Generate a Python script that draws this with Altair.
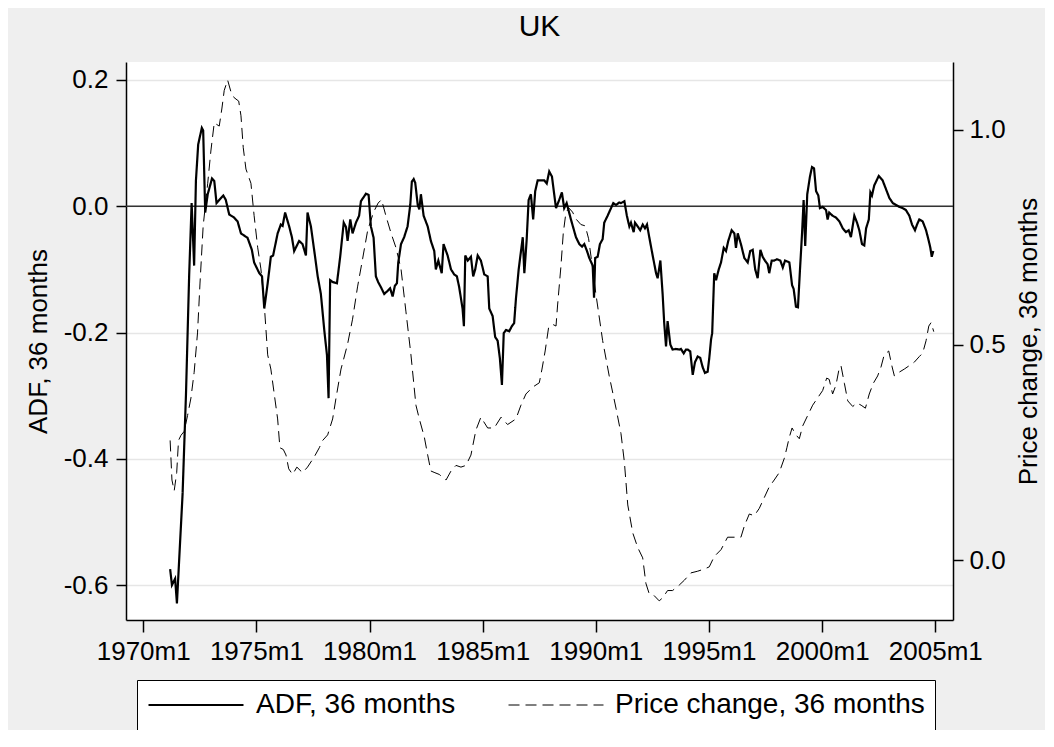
import altair as alt
import pandas as pd

# ---------------- data ----------------
adf_t = [1971.19, 1971.27, 1971.41, 1971.49, 1971.74, 1971.89, 1972.03, 1972.14, 1972.25, 1972.33,
         1972.43, 1972.59, 1972.65, 1972.74, 1972.85, 1973.04, 1973.14, 1973.24, 1973.36, 1973.54,
         1973.65, 1973.80, 1974.02, 1974.17, 1974.32, 1974.61, 1974.80, 1974.90, 1975.13, 1975.25,
         1975.35, 1975.50, 1975.64, 1975.74, 1975.94, 1976.08, 1976.16, 1976.27, 1976.45, 1976.57,
         1976.67, 1976.89, 1977.04, 1977.19, 1977.26, 1977.41, 1977.56, 1977.71, 1977.85, 1978.00,
         1978.12, 1978.19, 1978.26, 1978.37, 1978.56, 1978.71, 1978.86, 1978.96, 1979.03, 1979.15,
         1979.25, 1979.40, 1979.54, 1979.62, 1979.77, 1979.84, 1979.96, 1980.06, 1980.18, 1980.28,
         1980.38, 1980.50, 1980.65, 1980.80, 1980.91, 1981.02, 1981.12, 1981.21, 1981.27, 1981.39,
         1981.53, 1981.68, 1981.80, 1981.87, 1981.95, 1982.02, 1982.13, 1982.20, 1982.27, 1982.39,
         1982.57, 1982.71, 1982.86, 1982.93, 1983.04, 1983.19, 1983.27, 1983.45, 1983.60, 1983.74,
         1983.86, 1983.96, 1984.11, 1984.17, 1984.23, 1984.34, 1984.48, 1984.58, 1984.67, 1984.78,
         1984.92, 1985.07, 1985.22, 1985.29, 1985.44, 1985.55, 1985.66, 1985.76, 1985.85, 1985.93,
         1986.03, 1986.17, 1986.29, 1986.39, 1986.47, 1986.59, 1986.77, 1986.84, 1986.94, 1987.03,
         1987.13, 1987.23, 1987.32, 1987.43, 1987.57, 1987.72, 1987.83, 1987.94, 1988.06, 1988.16,
         1988.24, 1988.38, 1988.50, 1988.60, 1988.71, 1988.90, 1989.12, 1989.27, 1989.39, 1989.49,
         1989.61, 1989.71, 1989.86, 1989.92, 1989.97, 1990.08, 1990.18, 1990.30, 1990.37, 1990.52,
         1990.67, 1990.77, 1990.89, 1991.03, 1991.11, 1991.26, 1991.37, 1991.48, 1991.55, 1991.67,
         1991.73, 1991.85, 1991.96, 1992.07, 1992.17, 1992.26, 1992.36, 1992.51, 1992.66, 1992.73,
         1992.85, 1992.95, 1993.02, 1993.10, 1993.17, 1993.29, 1993.39, 1993.54, 1993.69, 1993.76,
         1993.88, 1993.98, 1994.06, 1994.17, 1994.28, 1994.38, 1994.50, 1994.61, 1994.72, 1994.82,
         1994.94, 1995.01, 1995.09, 1995.14, 1995.23, 1995.31, 1995.43, 1995.53, 1995.65, 1995.75,
         1995.85, 1996.00, 1996.12, 1996.19, 1996.27, 1996.41, 1996.56, 1996.71, 1996.82, 1996.93,
         1997.04, 1997.15, 1997.27, 1997.37, 1997.47, 1997.59, 1997.66, 1997.77, 1997.88, 1998.00,
         1998.15, 1998.26, 1998.36, 1998.55, 1998.67, 1998.74, 1998.84, 1998.93, 1999.02, 1999.11,
         1999.18, 1999.25, 1999.34, 1999.46, 1999.55, 1999.64, 1999.73, 1999.83, 1999.90, 2000.02,
         2000.17, 2000.24, 2000.31, 2000.46, 2000.61, 2000.76, 2000.91, 2001.05, 2001.17, 2001.27,
         2001.42, 2001.54, 2001.64, 2001.76, 2001.86, 2001.94, 2002.06, 2002.13, 2002.20, 2002.30,
         2002.50, 2002.67, 2002.82, 2002.97, 2003.12, 2003.26, 2003.41, 2003.56, 2003.70, 2003.85,
         2003.97, 2004.10, 2004.19, 2004.29, 2004.44, 2004.59, 2004.71, 2004.78, 2004.84, 2004.91]
adf_v = [-0.575, -0.600, -0.590, -0.629, -0.456, -0.298, -0.110, 0.005, -0.094, 0.041,
         0.098, 0.124, 0.120, -0.010, 0.019, 0.044, 0.040, 0.005, 0.010, 0.017,
         0.010, -0.013, -0.018, -0.024, -0.043, -0.050, -0.069, -0.089, -0.106, -0.111,
         -0.162, -0.122, -0.080, -0.078, -0.043, -0.029, -0.031, -0.010, -0.032, -0.049,
         -0.071, -0.055, -0.060, -0.078, -0.010, -0.032, -0.071, -0.111, -0.139, -0.196,
         -0.236, -0.304, -0.117, -0.120, -0.122, -0.078, -0.026, -0.033, -0.055, -0.021,
         -0.043, -0.026, -0.015, 0.008, 0.016, 0.020, 0.018, -0.032, -0.050, -0.111,
         -0.120, -0.128, -0.139, -0.134, -0.130, -0.143, -0.126, -0.122, -0.089, -0.060,
         -0.049, -0.032, 0.002, 0.039, 0.043, 0.037, 0.002, -0.005, 0.019, -0.015,
         -0.032, -0.055, -0.071, -0.100, -0.086, -0.106, -0.060, -0.078, -0.100, -0.108,
         -0.111, -0.128, -0.162, -0.190, -0.078, -0.086, -0.080, -0.111, -0.100, -0.078,
         -0.086, -0.108, -0.111, -0.162, -0.174, -0.207, -0.213, -0.241, -0.283, -0.201,
         -0.196, -0.198, -0.190, -0.185, -0.146, -0.100, -0.049, -0.106, -0.055, 0.010,
         0.019, -0.021, 0.024, 0.041, 0.041, 0.041, 0.036, 0.055, 0.047, 0.019,
         -0.003, 0.010, 0.022, -0.003, 0.005, -0.021, -0.049, -0.060, -0.064, -0.060,
         -0.071, -0.082, -0.094, -0.145, -0.082, -0.080, -0.060, -0.052, -0.026, -0.015,
         -0.003, 0.005, 0.002, 0.006, 0.005, 0.008, -0.015, -0.032, -0.026, -0.041,
         -0.026, -0.032, -0.038, -0.029, -0.035, -0.029, -0.049, -0.078, -0.106, -0.114,
         -0.086, -0.139, -0.185, -0.222, -0.182, -0.219, -0.227, -0.226, -0.227, -0.226,
         -0.233, -0.227, -0.227, -0.230, -0.267, -0.247, -0.238, -0.240, -0.255, -0.264,
         -0.262, -0.241, -0.211, -0.201, -0.106, -0.117, -0.100, -0.089, -0.066, -0.071,
         -0.055, -0.038, -0.043, -0.066, -0.043, -0.060, -0.082, -0.089, -0.071, -0.069,
         -0.100, -0.114, -0.069, -0.080, -0.086, -0.092, -0.106, -0.086, -0.086, -0.084,
         -0.086, -0.097, -0.086, -0.089, -0.125, -0.131, -0.159, -0.160, -0.100, -0.043,
         0.010, -0.063, 0.019, 0.047, 0.062, 0.060, 0.024, 0.017, -0.003, -0.001,
         -0.006, -0.021, -0.010, -0.015, -0.018, -0.024, -0.035, -0.041, -0.038, -0.049,
         -0.015, -0.026, -0.038, -0.060, -0.062, -0.035, -0.021, 0.022, 0.017, 0.033,
         0.048, 0.041, 0.027, 0.013, 0.005, 0.002, -0.001, -0.003, -0.006, -0.015,
         -0.029, -0.038, -0.029, -0.021, -0.024, -0.038, -0.055, -0.066, -0.080, -0.071]

pc_t = [1971.19, 1971.27, 1971.37, 1971.48, 1971.56, 1971.67, 1971.81, 1971.96, 1972.11, 1972.25,
        1972.40, 1972.51, 1972.65, 1972.85, 1972.99, 1973.14, 1973.24, 1973.36, 1973.48, 1973.58,
        1973.73, 1973.88, 1974.02, 1974.22, 1974.32, 1974.42, 1974.54, 1974.76, 1974.90, 1975.06,
        1975.20, 1975.35, 1975.50, 1975.64, 1975.79, 1975.94, 1976.04, 1976.19, 1976.31, 1976.43,
        1976.60, 1976.79, 1977.04, 1977.26, 1977.56, 1977.78, 1977.93, 1978.15, 1978.37, 1978.52,
        1978.74, 1979.03, 1979.25, 1979.47, 1979.70, 1979.92, 1980.18, 1980.38, 1980.53, 1980.72,
        1980.95, 1981.17, 1981.39, 1981.61, 1981.83, 1982.05, 1982.20, 1982.42, 1982.57, 1982.71,
        1982.89, 1983.08, 1983.38, 1983.60, 1983.82, 1984.04, 1984.26, 1984.48, 1984.70, 1984.92,
        1985.22, 1985.51, 1985.81, 1986.10, 1986.47, 1986.69, 1986.91, 1987.21, 1987.50, 1987.62,
        1987.76, 1987.91, 1988.09, 1988.24, 1988.31, 1988.46, 1988.56, 1988.68, 1988.82, 1988.97,
        1989.12, 1989.34, 1989.53, 1989.68, 1989.86, 1990.00, 1990.30, 1990.59, 1990.89, 1991.11,
        1991.26, 1991.41, 1991.63, 1991.85, 1992.07, 1992.21, 1992.36, 1992.58, 1992.80, 1992.95,
        1993.17, 1993.39, 1993.69, 1993.91, 1994.20, 1994.50, 1994.79, 1995.01, 1995.23, 1995.53,
        1995.82, 1996.19, 1996.41, 1996.56, 1996.78, 1997.00, 1997.22, 1997.44, 1997.66, 1997.88,
        1998.10, 1998.33, 1998.44, 1998.55, 1998.67, 1998.84, 1998.99, 1999.14, 1999.36, 1999.58,
        1999.80, 2000.02, 2000.20, 2000.31, 2000.46, 2000.61, 2000.73, 2000.83, 2000.98, 2001.13,
        2001.35, 2001.53, 2001.72, 2001.91, 2002.08, 2002.26, 2002.45, 2002.60, 2002.74, 2002.94,
        2003.09, 2003.19, 2003.38, 2003.63, 2003.85, 2004.07, 2004.29, 2004.44, 2004.59, 2004.71,
        2004.81, 2004.93]
pc_v = [0.278, 0.186, 0.161, 0.203, 0.278, 0.290, 0.299, 0.336, 0.377, 0.436,
        0.528, 0.644, 0.777, 0.876, 0.951, 1.017, 1.013, 1.009, 1.051, 1.092,
        1.116, 1.088, 1.075, 1.067, 1.033, 0.959, 0.909, 0.876, 0.801, 0.726,
        0.677, 0.593, 0.477, 0.444, 0.386, 0.328, 0.261, 0.257, 0.244, 0.212,
        0.199, 0.216, 0.203, 0.216, 0.240, 0.261, 0.278, 0.291, 0.328, 0.377,
        0.444, 0.502, 0.560, 0.635, 0.702, 0.767, 0.809, 0.830, 0.838, 0.801,
        0.760, 0.726, 0.677, 0.577, 0.477, 0.360, 0.328, 0.286, 0.244, 0.207,
        0.203, 0.199, 0.186, 0.207, 0.220, 0.216, 0.220, 0.244, 0.302, 0.332,
        0.307, 0.307, 0.332, 0.315, 0.328, 0.360, 0.386, 0.402, 0.412, 0.444,
        0.486, 0.540, 0.548, 0.544, 0.593, 0.685, 0.760, 0.809, 0.818, 0.809,
        0.793, 0.780, 0.777, 0.747, 0.677, 0.619, 0.510, 0.428, 0.353, 0.294,
        0.228, 0.128, 0.063, 0.029, 0.005, -0.054, -0.079, -0.083, -0.095, -0.088,
        -0.071, -0.071, -0.058, -0.047, -0.030, -0.026, -0.021, -0.016, 0.008, 0.024,
        0.053, 0.053, 0.053, 0.079, 0.107, 0.103, 0.120, 0.145, 0.170, 0.186,
        0.203, 0.237, 0.261, 0.286, 0.307, 0.291, 0.282, 0.312, 0.336, 0.360,
        0.377, 0.394, 0.423, 0.420, 0.386, 0.407, 0.440, 0.452, 0.411, 0.370,
        0.357, 0.365, 0.360, 0.353, 0.386, 0.411, 0.428, 0.449, 0.477, 0.486,
        0.449, 0.428, 0.436, 0.444, 0.452, 0.460, 0.473, 0.481, 0.510, 0.544,
        0.552, 0.531]

series_names = ["ADF, 36 months", "Price change, 36 months"]
x_ticks = [1970, 1975, 1980, 1985, 1990, 1995, 2000, 2005]
left_ticks = [-0.6, -0.4, -0.2, 0.0, 0.2]
right_ticks = [0.0, 0.5, 1.0]
zero_level = [0.0]

# ---------------- build ----------------
FONT = "Liberation Sans"
MINUS_FIX = "replace(datum.label, '\u2212', '-')"

df_adf = pd.DataFrame({"t": adf_t, "v": adf_v, "series": series_names[0]})
df_pc = pd.DataFrame({"t": pc_t, "v": pc_v, "series": series_names[1]})
df_zero = pd.DataFrame({"z": zero_level})

x_scale = alt.Scale(domain=[1969.24, 2005.78], nice=False, zero=False)
x_axis = alt.Axis(values=x_ticks, labelExpr="datum.value + 'm1'", title=None,
                  grid=False, tickSize=12, labelPadding=6, labelFontSize=26,
                  labelFont=FONT, labelColor="black", domainColor="black",
                  domainWidth=1.5, tickColor="black", tickWidth=1.5, labelFlush=False)

left_scale = alt.Scale(domain=[-0.6554, 0.2285], nice=False, zero=False)
right_scale = alt.Scale(domain=[-0.1395, 1.158], nice=False, zero=False)

dash_scale = alt.Scale(domain=series_names, range=[[1, 0], [11, 6]])
width_scale = alt.Scale(domain=series_names, range=[2.2, 1.0])
legend = alt.Legend(title=None, orient="none", legendX=11, legendY=618,
                    direction="horizontal", symbolType="stroke", symbolSize=9025,
                    clipHeight=30, symbolStrokeColor="black", labelFontSize=28,
                    labelFont=FONT, labelColor="black", labelOffset=11,
                    labelLimit=500, columnPadding=52, padding=10,
                    fillColor="white", strokeColor="black")

adf_line = alt.Chart(df_adf).mark_line(color="black", strokeJoin="miter").encode(
    x=alt.X("t:Q", scale=x_scale, axis=x_axis),
    y=alt.Y("v:Q", scale=left_scale,
            axis=alt.Axis(orient="left", values=left_ticks, format=".1f",
                          labelExpr=MINUS_FIX,
                          title="ADF, 36 months", titleFontSize=26, titleFont=FONT,
                          titleFontWeight="normal", titleColor="black", titlePadding=12,
                          labelFontSize=26, labelFont=FONT, labelColor="black",
                          tickSize=10, labelPadding=8, grid=True, gridColor="#e6e6e6",
                          gridWidth=1.5, domainColor="black", domainWidth=1.5,
                          tickColor="black", tickWidth=1.5)),
    strokeDash=alt.StrokeDash("series:N", scale=dash_scale, legend=legend),
    strokeWidth=alt.StrokeWidth("series:N", scale=width_scale, legend=legend),
)

zero_rule = alt.Chart(df_zero).mark_rule(color="#333333", strokeWidth=1.5).encode(
    y=alt.Y("z:Q", scale=left_scale)
)

pc_line = alt.Chart(df_pc).mark_line(color="black").encode(
    x=alt.X("t:Q", scale=x_scale, axis=x_axis),
    y=alt.Y("v:Q", scale=right_scale,
            axis=alt.Axis(orient="right", values=right_ticks, format=".1f",
                          labelExpr=MINUS_FIX,
                          title="Price change, 36 months", titleFontSize=26,
                          titleFont=FONT, titleFontWeight="normal", titleColor="black",
                          titleAngle=270, titleBaseline="top",
                          titlePadding=10, labelFontSize=26, labelFont=FONT,
                          labelColor="black", tickSize=10, labelPadding=6, grid=False,
                          domainColor="black", domainWidth=1.5, tickColor="black",
                          tickWidth=1.5)),
    strokeDash=alt.StrokeDash("series:N", scale=dash_scale, legend=legend),
    strokeWidth=alt.StrokeWidth("series:N", scale=width_scale, legend=legend),
)

chart = alt.layer(alt.layer(zero_rule, adf_line), pc_line).resolve_scale(
    y="independent"
).properties(
    width=827, height=558,
    title=alt.Title("UK", fontSize=30, font=FONT, fontWeight="normal", color="black",
                    anchor="middle", offset=20),
    autosize=alt.AutoSizeParams(type="none"),
    padding={"left": 118, "top": 54, "right": 92, "bottom": 110},
    background="#efefef",
).configure_view(fill="white", stroke=None)

chart.save("out.html", embed_options={"renderer": "svg", "actions": False})
